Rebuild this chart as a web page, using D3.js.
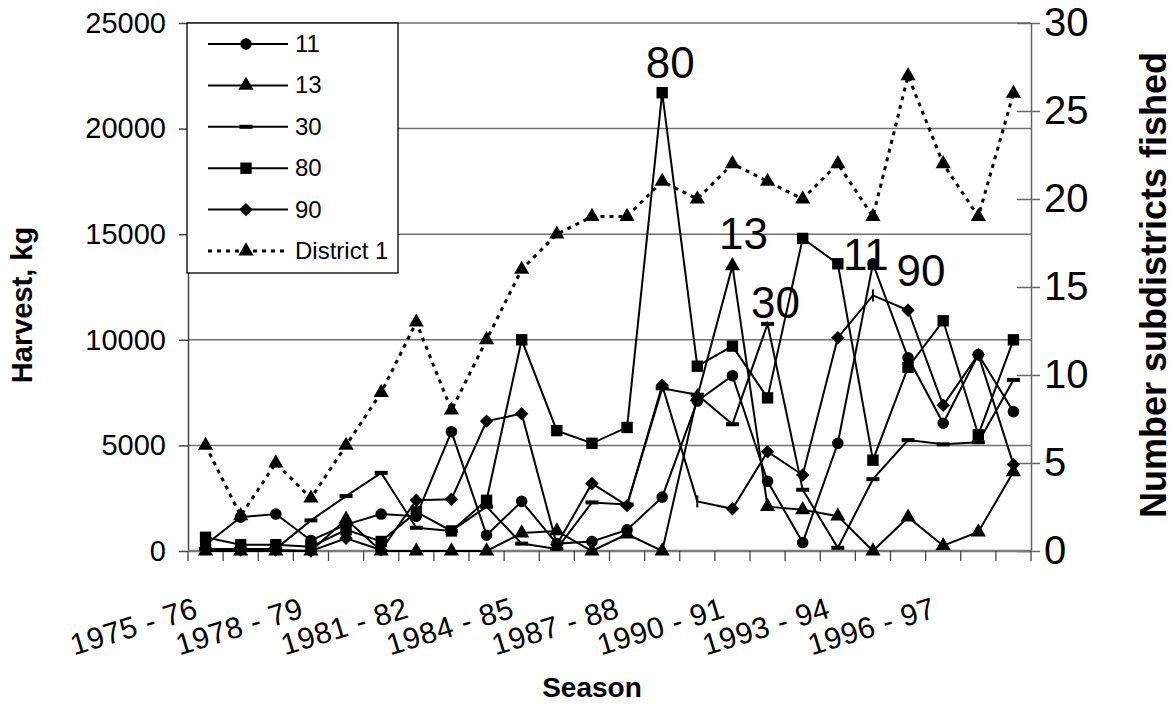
<!DOCTYPE html>
<html>
<head>
<meta charset="utf-8">
<script src="https://cdn.jsdelivr.net/npm/d3@7"></script>
<style>
  body { margin: 0; background: #fff; }
  svg { font-family: 'Liberation Sans', Arial, sans-serif; }
</style>
</head>
<body>
<svg width="1174" height="708"></svg>
<script>
// Seasons on the x axis
const seasons = [
  '1975 - 76', '1976 - 77', '1977 - 78', '1978 - 79', '1979 - 80', '1980 - 81',
  '1981 - 82', '1982 - 83', '1983 - 84', '1984 - 85', '1985 - 86', '1986 - 87',
  '1987 - 88', '1988 - 89', '1989 - 90', '1990 - 91', '1991 - 92', '1992 - 93',
  '1993 - 94', '1994 - 95', '1995 - 96', '1996 - 97', '1997 - 98', '1998 - 99',
];

// Harvest (kg) per subdistrict
const sub11 = [300, 1600, 1750, 500, 1250, 1750, 1650, 5650, 750, 2350, 350, 450,
  1000, 2550, 7100, 8300, 3300, 400, 5100, 13600, 9150, 6050, 9300, 6600];
const sub13 = [0, 0, 0, 0, 1500, 0, 0, 0, 0, 850, 950, 0,
  800, 0, 7300, 13500, 2100, 1950, 1650, 0, 1600, 250, 900, 3750];
const sub30 = [100, 100, 100, 1450, 2600, 3700, 1100, 950, 2100, 350, 100, 2300,
  2200, 7700, 7400, 6000, 10750, 2900, 150, 3400, 5250, 5050, 5150, 8100];
const sub80 = [650, 300, 300, 200, 1000, 450, 1850, 950, 2400, 10000, 5700, 5100,
  5850, 21700, 8750, 9700, 7250, 14800, 13600, 4300, 8700, 10900, 5500, 10000];
const sub90 = [100, 50, 50, 0, 600, 50, 2400, 2450, 6150, 6500, 300, 3200,
  2150, 7850, 2350, 2000, 4700, 3600, 10100, 12100, 11400, 6900, 9300, 4100];

// Number of subdistricts fished (right axis)
const district1 = [6, 2, 5, 3, 6, 9, 13, 8, 12, 16, 18, 19,
  19, 21, 20, 22, 21, 20, 22, 19, 27, 22, 19, 26];

const leftTicks = [0, 5000, 10000, 15000, 20000, 25000];
const rightTicks = [0, 5, 10, 15, 20, 25, 30];

const seriesNames = ['11', '13', '30', '80', '90'];
const seriesValues = [sub11, sub13, sub30, sub80, sub90];
const seriesMarkers = ['circle', 'triangle', 'dash', 'square', 'diamond'];
// points of series 90 that show a thin bar instead of a diamond
const barMarkers90 = [14, 19];

// peak labels: series name and season index
const peakLabels = ['80', '13', '30', '11', '90'];
const peakIndex = [13, 15, 16, 19, 20];
const peakOffset = [[8, -15], [11, -17], [8, -6], [-7, 6], [13, -24]];

const font = 'Liberation Sans, Arial, sans-serif';
const svg = d3.select('svg');
const width = +svg.attr('width');
const height = +svg.attr('height');
const margin = {
  top: 23, right: 143, bottom: 157, left: 188,
};
const innerWidth = width - margin.left - margin.right;
const innerHeight = height - margin.top - margin.bottom;

const x = d3.scaleBand().domain(seasons).range([0, innerWidth]).padding(0);
const cx = (i) => x(seasons[i]) + x.bandwidth() / 2;
const yLeft = d3.scaleLinear().domain([0, 25000]).range([innerHeight, 0]);
const yRight = d3.scaleLinear().domain([0, 30]).range([innerHeight, 0]);

const g = svg.append('g').attr('transform', `translate(${margin.left},${margin.top})`);

// Grid lines
g.selectAll('.grid')
  .data(leftTicks.filter((t) => t > 0))
  .enter()
  .append('line')
  .attr('x1', 0)
  .attr('x2', innerWidth)
  .attr('y1', (d) => yLeft(d))
  .attr('y2', (d) => yLeft(d))
  .attr('stroke', '#707070')
  .attr('stroke-width', 1.5);

// Left axis
const leftAxis = g.append('g')
  .call(d3.axisLeft(yLeft).tickValues(leftTicks).tickSize(9).tickSizeOuter(0).tickPadding(13)
    .tickFormat(d3.format('d')))
  .attr('font-size', 29)
  .attr('font-family', font);
leftAxis.select('.domain').attr('stroke', '#444').attr('stroke-width', 1.5);
leftAxis.selectAll('line').attr('stroke', '#444').attr('stroke-width', 1.5);
leftAxis.selectAll('text').attr('fill', '#000');

// Right axis
const rightAxis = g.append('g')
  .attr('transform', `translate(${innerWidth},0)`)
  .call(d3.axisRight(yRight).tickValues(rightTicks).tickSize(9).tickSizeOuter(0).tickPadding(4))
  .attr('font-size', 40)
  .attr('font-family', font);
rightAxis.select('.domain').attr('stroke', '#666').attr('stroke-width', 1.5);
rightAxis.selectAll('.tick line').attr('stroke', '#666').attr('stroke-width', 1.5);
rightAxis.selectAll('.tick').append('line')
  .attr('x1', 0).attr('x2', -14)
  .attr('stroke', '#666').attr('stroke-width', 1.5);
rightAxis.selectAll('text').attr('fill', '#000');

// Bottom axis: line, tick marks between seasons, rotated labels
g.append('line')
  .attr('x1', 0).attr('x2', innerWidth)
  .attr('y1', innerHeight).attr('y2', innerHeight)
  .attr('stroke', '#7a7a7a').attr('stroke-width', 2.5);
g.selectAll('.xtick')
  .data(seasons.map((s) => x(s)).concat([innerWidth]))
  .enter()
  .append('line')
  .attr('x1', (d) => d).attr('x2', (d) => d)
  .attr('y1', innerHeight).attr('y2', innerHeight + 10)
  .attr('stroke', '#444').attr('stroke-width', 1.3);

const bottomAxis = g.append('g')
  .attr('transform', `translate(0,${innerHeight})`)
  .call(d3.axisBottom(x).tickValues(seasons.filter((d, i) => i % 3 === 0)).tickSize(0))
  .attr('font-size', 30)
  .attr('font-family', font);
bottomAxis.select('.domain').remove();
bottomAxis.selectAll('text')
  .attr('fill', '#000')
  .attr('letter-spacing', 0.5)
  .attr('text-anchor', 'end')
  .attr('x', 0).attr('y', 0).attr('dy', 0)
  .attr('transform', 'translate(-6,66) rotate(-17)');

// Marker drawing
function drawMarker(sel, kind) {
  if (kind === 'circle') {
    sel.append('path').attr('d', d3.symbol(d3.symbolCircle, 105)());
  } else if (kind === 'triangle') {
    sel.append('path').attr('d', d3.symbol(d3.symbolTriangle, 100)());
  } else if (kind === 'square') {
    sel.append('path').attr('d', d3.symbol(d3.symbolSquare, 130)());
  } else if (kind === 'diamond') {
    sel.append('path').attr('d', d3.symbol(d3.symbolSquare, 90)()).attr('transform', 'rotate(45)');
  } else if (kind === 'dash') {
    sel.append('rect').attr('x', -6.5).attr('y', -2).attr('width', 13).attr('height', 4);
  } else if (kind === 'bar') {
    sel.append('rect').attr('x', -1).attr('y', -6).attr('width', 2).attr('height', 12);
  }
}

const line = d3.line().x((d, i) => cx(i)).y((d) => yLeft(d));

seriesValues.forEach((values, s) => {
  g.append('path')
    .datum(values)
    .attr('fill', 'none')
    .attr('stroke', '#000')
    .attr('stroke-width', 2)
    .attr('d', line);
  g.selectAll(null)
    .data(values)
    .enter()
    .append('g')
    .attr('transform', (d, i) => `translate(${cx(i)},${yLeft(d)})`)
    .attr('fill', '#000')
    .each(function (d, i) {
      let kind = seriesMarkers[s];
      if (seriesNames[s] === '90' && barMarkers90.includes(i)) kind = 'bar';
      drawMarker(d3.select(this), kind);
    });
});

// District 1 (right axis)
const districtLine = d3.line().x((d, i) => cx(i)).y((d) => yRight(d));
g.append('path')
  .datum(district1)
  .attr('fill', 'none')
  .attr('stroke', '#000')
  .attr('stroke-width', 3)
  .attr('stroke-dasharray', '4,5')
  .attr('d', districtLine);
g.selectAll(null)
  .data(district1)
  .enter()
  .append('g')
  .attr('transform', (d, i) => `translate(${cx(i)},${yRight(d)})`)
  .attr('fill', '#000')
  .each(function () { drawMarker(d3.select(this), 'triangle'); });

// Peak labels
peakLabels.forEach((label, k) => {
  const values = seriesValues[seriesNames.indexOf(label)];
  const i = peakIndex[k];
  g.append('text')
    .attr('x', cx(i) + peakOffset[k][0])
    .attr('y', yLeft(values[i]) + peakOffset[k][1])
    .attr('text-anchor', 'middle')
    .attr('font-size', '44px')
    .text(label);
});

// Legend
const legendNames = seriesNames.concat(['District 1']);
const legendMarkers = seriesMarkers.concat(['triangle']);
const legend = svg.append('g').attr('transform', 'translate(187,23)');
legend.append('rect')
  .attr('width', 211).attr('height', 250)
  .attr('fill', '#fff').attr('stroke', '#000').attr('stroke-width', 1.3);
legendNames.forEach((name, k) => {
  const row = legend.append('g').attr('transform', `translate(0,${21 + k * 41.4})`);
  row.append('line')
    .attr('x1', 21).attr('x2', 101)
    .attr('stroke', '#000')
    .attr('stroke-width', name === 'District 1' ? 3 : 2)
    .attr('stroke-dasharray', name === 'District 1' ? '4,5' : null);
  const m = row.append('g').attr('transform', 'translate(59,0)').attr('fill', '#000');
  drawMarker(m, legendMarkers[k]);
  row.append('text')
    .attr('x', 108).attr('y', 8)
    .attr('font-size', '24px')
    .text(name);
});

// Axis titles
svg.append('text')
  .attr('transform', 'translate(32,305) rotate(-90)')
  .attr('text-anchor', 'middle')
  .attr('font-size', '29px')
  .attr('font-weight', 'bold')
  .text('Harvest, kg');

svg.append('text')
  .attr('transform', 'translate(1166,285) rotate(-90)')
  .attr('text-anchor', 'middle')
  .attr('font-size', '36px')
  .attr('font-weight', 'bold')
  .text('Number subdistricts fished');

svg.append('text')
  .attr('x', 592).attr('y', 697)
  .attr('text-anchor', 'middle')
  .attr('font-size', '28px')
  .attr('font-weight', 'bold')
  .text('Season');
</script>
</body>
</html>
